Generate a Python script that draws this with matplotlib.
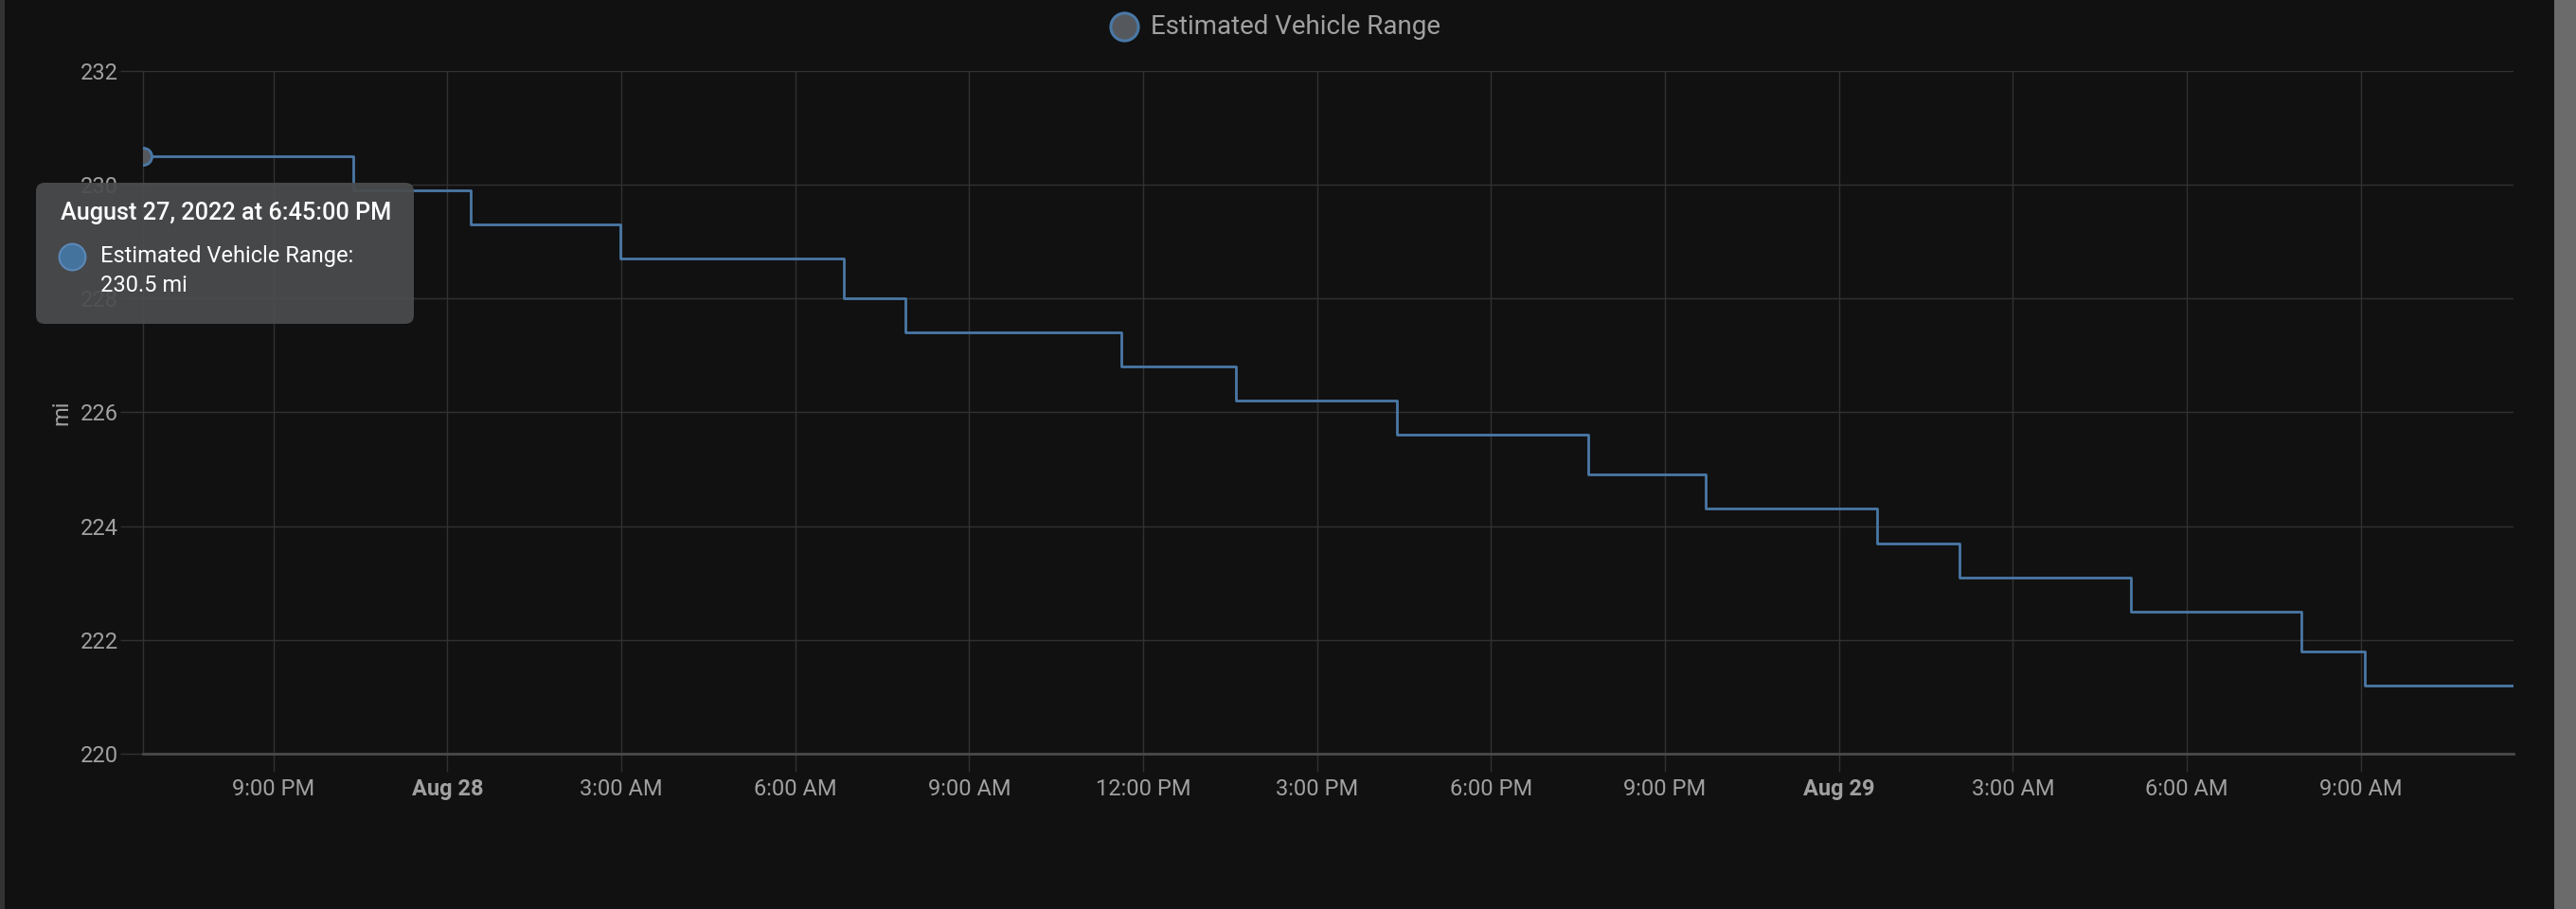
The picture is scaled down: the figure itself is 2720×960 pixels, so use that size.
import pandas as pd
import matplotlib
matplotlib.use("Agg")
import matplotlib.pyplot as plt
from matplotlib.lines import Line2D
from matplotlib.patches import FancyBboxPatch, Rectangle
from matplotlib.transforms import IdentityTransform

plt.rcParams['font.family'] = ['Roboto', 'DejaVu Sans']

# data
change_times = ["2022-08-27 18:45", "2022-08-27 22:23", "2022-08-28 00:24",
                "2022-08-28 02:59", "2022-08-28 06:50", "2022-08-28 07:54",
                "2022-08-28 11:37", "2022-08-28 13:36", "2022-08-28 16:23",
                "2022-08-28 19:41", "2022-08-28 21:42", "2022-08-29 00:39",
                "2022-08-29 02:05", "2022-08-29 05:02", "2022-08-29 07:58",
                "2022-08-29 09:04"]
range_mi = [230.5, 229.9, 229.3, 228.7, 228.0, 227.4, 226.8, 226.2, 225.6,
            224.9, 224.3, 223.7, 223.1, 222.5, 221.8, 221.2]
end_time = "2022-08-29 11:38"
y_ticks = [220, 222, 224, 226, 228, 230, 232]
series_name = "Estimated Vehicle Range"
unit = "mi"
tooltip_title = "August 27, 2022 at 6:45:00 PM"
tooltip_value = "230.5 mi"

BG = '#111111'
GRID = '#313131'
LINE = '#4a78a6'
TXT = '#a0a0a0'

t = pd.to_datetime(change_times).tolist() + [pd.to_datetime(end_time)]
v = range_mi + [range_mi[-1]]

fig = plt.figure(figsize=(27.2, 9.6), dpi=100, facecolor=BG)
ax = fig.add_axes([151 / 2720, 1 - 796 / 960, (2654 - 151) / 2720, (796 - 74.6) / 960])
ax.set_facecolor(BG)

ax.plot(t, v, drawstyle='steps-post', color=LINE, lw=2, zorder=3)
ax.plot(t[:1], v[:1], 'o', ms=13, mfc='#55595e', mec=LINE, mew=2, zorder=4, clip_on=True)

ax.set_xlim(t[0], t[-1])
ax.set_ylim(y_ticks[0], y_ticks[-1])
ax.set_yticks(y_ticks)

# 3-hour ticks, midnight shown as the date in bold
xt = pd.date_range(pd.Timestamp(t[0]).ceil('3h'), t[-1], freq='3h')
labels = []
for d in xt:
    if d.hour == 0:
        labels.append(d.strftime('%b ') + str(d.day))
    else:
        labels.append(f"{d.hour % 12 or 12}:{d.minute:02d} {'AM' if d.hour < 12 else 'PM'}")
ax.set_xticks(xt, labels)
for d, lab in zip(xt, ax.get_xticklabels()):
    if d.hour == 0:
        lab.set_fontweight('bold')
        lab.set_color('#c4c4c4')

ax.grid(True, color=GRID, lw=1.0)
for s in ['top', 'right']:
    ax.spines[s].set_visible(False)
ax.spines['left'].set_color(GRID)
ax.spines['left'].set_linewidth(1.0)
ax.spines['bottom'].set_color('#4a4a4a')
ax.spines['bottom'].set_linewidth(2)
ax.tick_params(axis='both', colors=GRID, labelcolor=TXT, labelsize=17, width=1.0)
ax.tick_params(axis='x', length=14, pad=5)
ax.tick_params(axis='y', length=17, pad=2)
ax.set_ylabel(unit, color=TXT, fontsize=17, labelpad=6)

# legend at top
fig.add_artist(Line2D([1187 / 2720], [1 - 28 / 960], transform=fig.transFigure,
                      marker='o', ms=21, mfc='#55595e', mec=LINE, mew=2.2, ls=''))
fig.text(1215 / 2720, 1 - 28 / 960, series_name, color=TXT, fontsize=20,
         va='center', ha='left')

# hover tooltip
H = 960
tip = FancyBboxPatch((38, H - 342), 399, 149, boxstyle='round,pad=0,rounding_size=9',
                     transform=IdentityTransform(), fc='#4b4c4e', ec='none',
                     alpha=0.93, zorder=10)
fig.add_artist(tip)
fig.text(64, H - 225, tooltip_title, transform=IdentityTransform(), color='white',
         fontsize=18.2, fontweight='medium', va='center', ha='left', zorder=11)
fig.add_artist(Line2D([76], [H - 271], transform=IdentityTransform(), marker='o',
                      ms=20, mfc='#44739e', mec='#5b88b8', mew=1.5, ls='', zorder=11))
fig.text(106, H - 271, series_name + ":", transform=IdentityTransform(), color='white',
         fontsize=17, va='center', ha='left', zorder=11)
fig.text(106, H - 302, tooltip_value, transform=IdentityTransform(), color='white',
         fontsize=17, va='center', ha='left', zorder=11)

# page edges
fig.add_artist(Rectangle((0, 0), 5 / 2720, 1, transform=fig.transFigure, fc='#333333', ec='none'))
fig.add_artist(Rectangle((2697 / 2720, 0), 23 / 2720, 1, transform=fig.transFigure, fc='#6b6b6b', ec='none'))

fig.savefig('out.png', dpi=100, facecolor=BG)
